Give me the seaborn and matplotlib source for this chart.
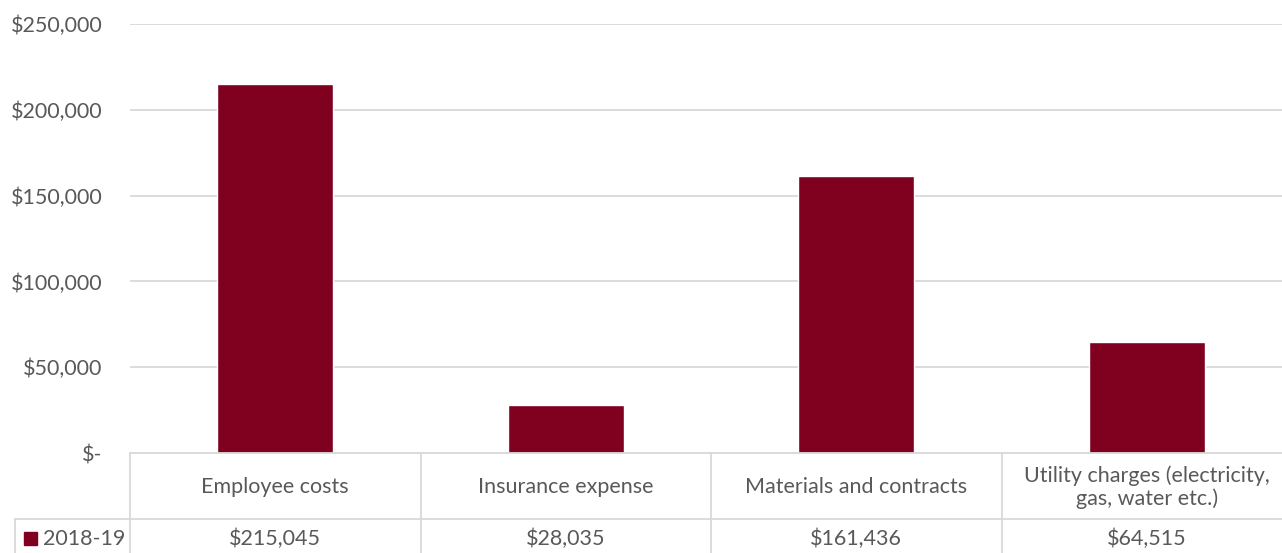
import matplotlib
matplotlib.use('Agg')
import matplotlib.pyplot as plt
import matplotlib.transforms as mtransforms
import seaborn as sns
import pandas as pd

categories = ['Employee costs', 'Insurance expense', 'Materials and contracts',
              'Utility charges (electricity,\ngas, water etc.)']
values = [215045, 28035, 161436, 64515]
series_name = '2018-19'
yticks = [0, 50000, 100000, 150000, 200000, 250000]

bar_color = '#800020'
text_color = '#595959'
line_color = '#d9d9d9'
fs = 15.5

sns.set_style('white')
plt.rcParams['font.family'] = ['Lato', 'DejaVu Sans']

df = pd.DataFrame({'category': categories, 'value': values})

W, H = 1282, 553
fig = plt.figure(figsize=(W / 100, H / 100), dpi=100)
ax = fig.add_axes([130 / W, (H - 453) / H, (1292 - 130) / W, (453 - 24) / H])

sns.barplot(data=df, x='category', y='value', color=bar_color, width=0.4,
            saturation=1, ax=ax)

ax.set_xlim(-0.5, 3.5)
ax.set_ylim(0, 250000)
ax.set_yticks(yticks)
ax.set_yticklabels(['$-' if v == 0 else f'${v:,.0f}' for v in yticks])
ax.tick_params(axis='y', length=0, pad=20, labelsize=fs, labelcolor=text_color)
ax.set_xticks([])
ax.set_xlabel('')
ax.set_ylabel('')
ax.grid(axis='y', color=line_color, linewidth=1.3)
ax.set_axisbelow(True)
for s in ['top', 'right', 'left']:
    ax.spines[s].set_visible(False)
ax.spines['bottom'].set_color(line_color)
ax.spines['bottom'].set_linewidth(1.3)

# data table below the plot (Excel style)
px = 1 / (453 - 24)  # one pixel in axes units (vertical)
trans = mtransforms.blended_transform_factory(ax.transData, ax.transAxes)
fig_trans = fig.transFigure

def hline(y, x0, x1):
    fig.add_artist(plt.Line2D([x0 / W, x1 / W], [1 - y / H, 1 - y / H],
                              color=line_color, linewidth=1.3, transform=fig_trans))

def vline(x, y0, y1):
    fig.add_artist(plt.Line2D([x / W, x / W], [1 - y0 / H, 1 - y1 / H],
                              color=line_color, linewidth=1.3, transform=fig_trans))

hline(519, 15, W)
vline(130, 453, H)
vline(15, 519, H)
for i in range(1, 4):
    xpix = 130 + i * 290.5
    vline(xpix, 453, H)

for i, (cat, val) in enumerate(zip(categories, values)):
    ax.text(i, -(487 - 453) * px, cat, transform=trans, ha='center', va='center',
            fontsize=fs, color=text_color, linespacing=1.15)
    ax.text(i, -(539 - 453) * px, f'${val:,.0f}', transform=trans, ha='center',
            va='center', fontsize=fs, color=text_color)

fig.add_artist(plt.Rectangle((24 / W, 1 - 545 / H), 13 / W, 13 / H,
                             color=bar_color, transform=fig_trans))
fig.text(43 / W, 1 - 539 / H, series_name, ha='left', va='center',
         fontsize=fs, color=text_color)

plt.savefig('out.png', dpi=100)
